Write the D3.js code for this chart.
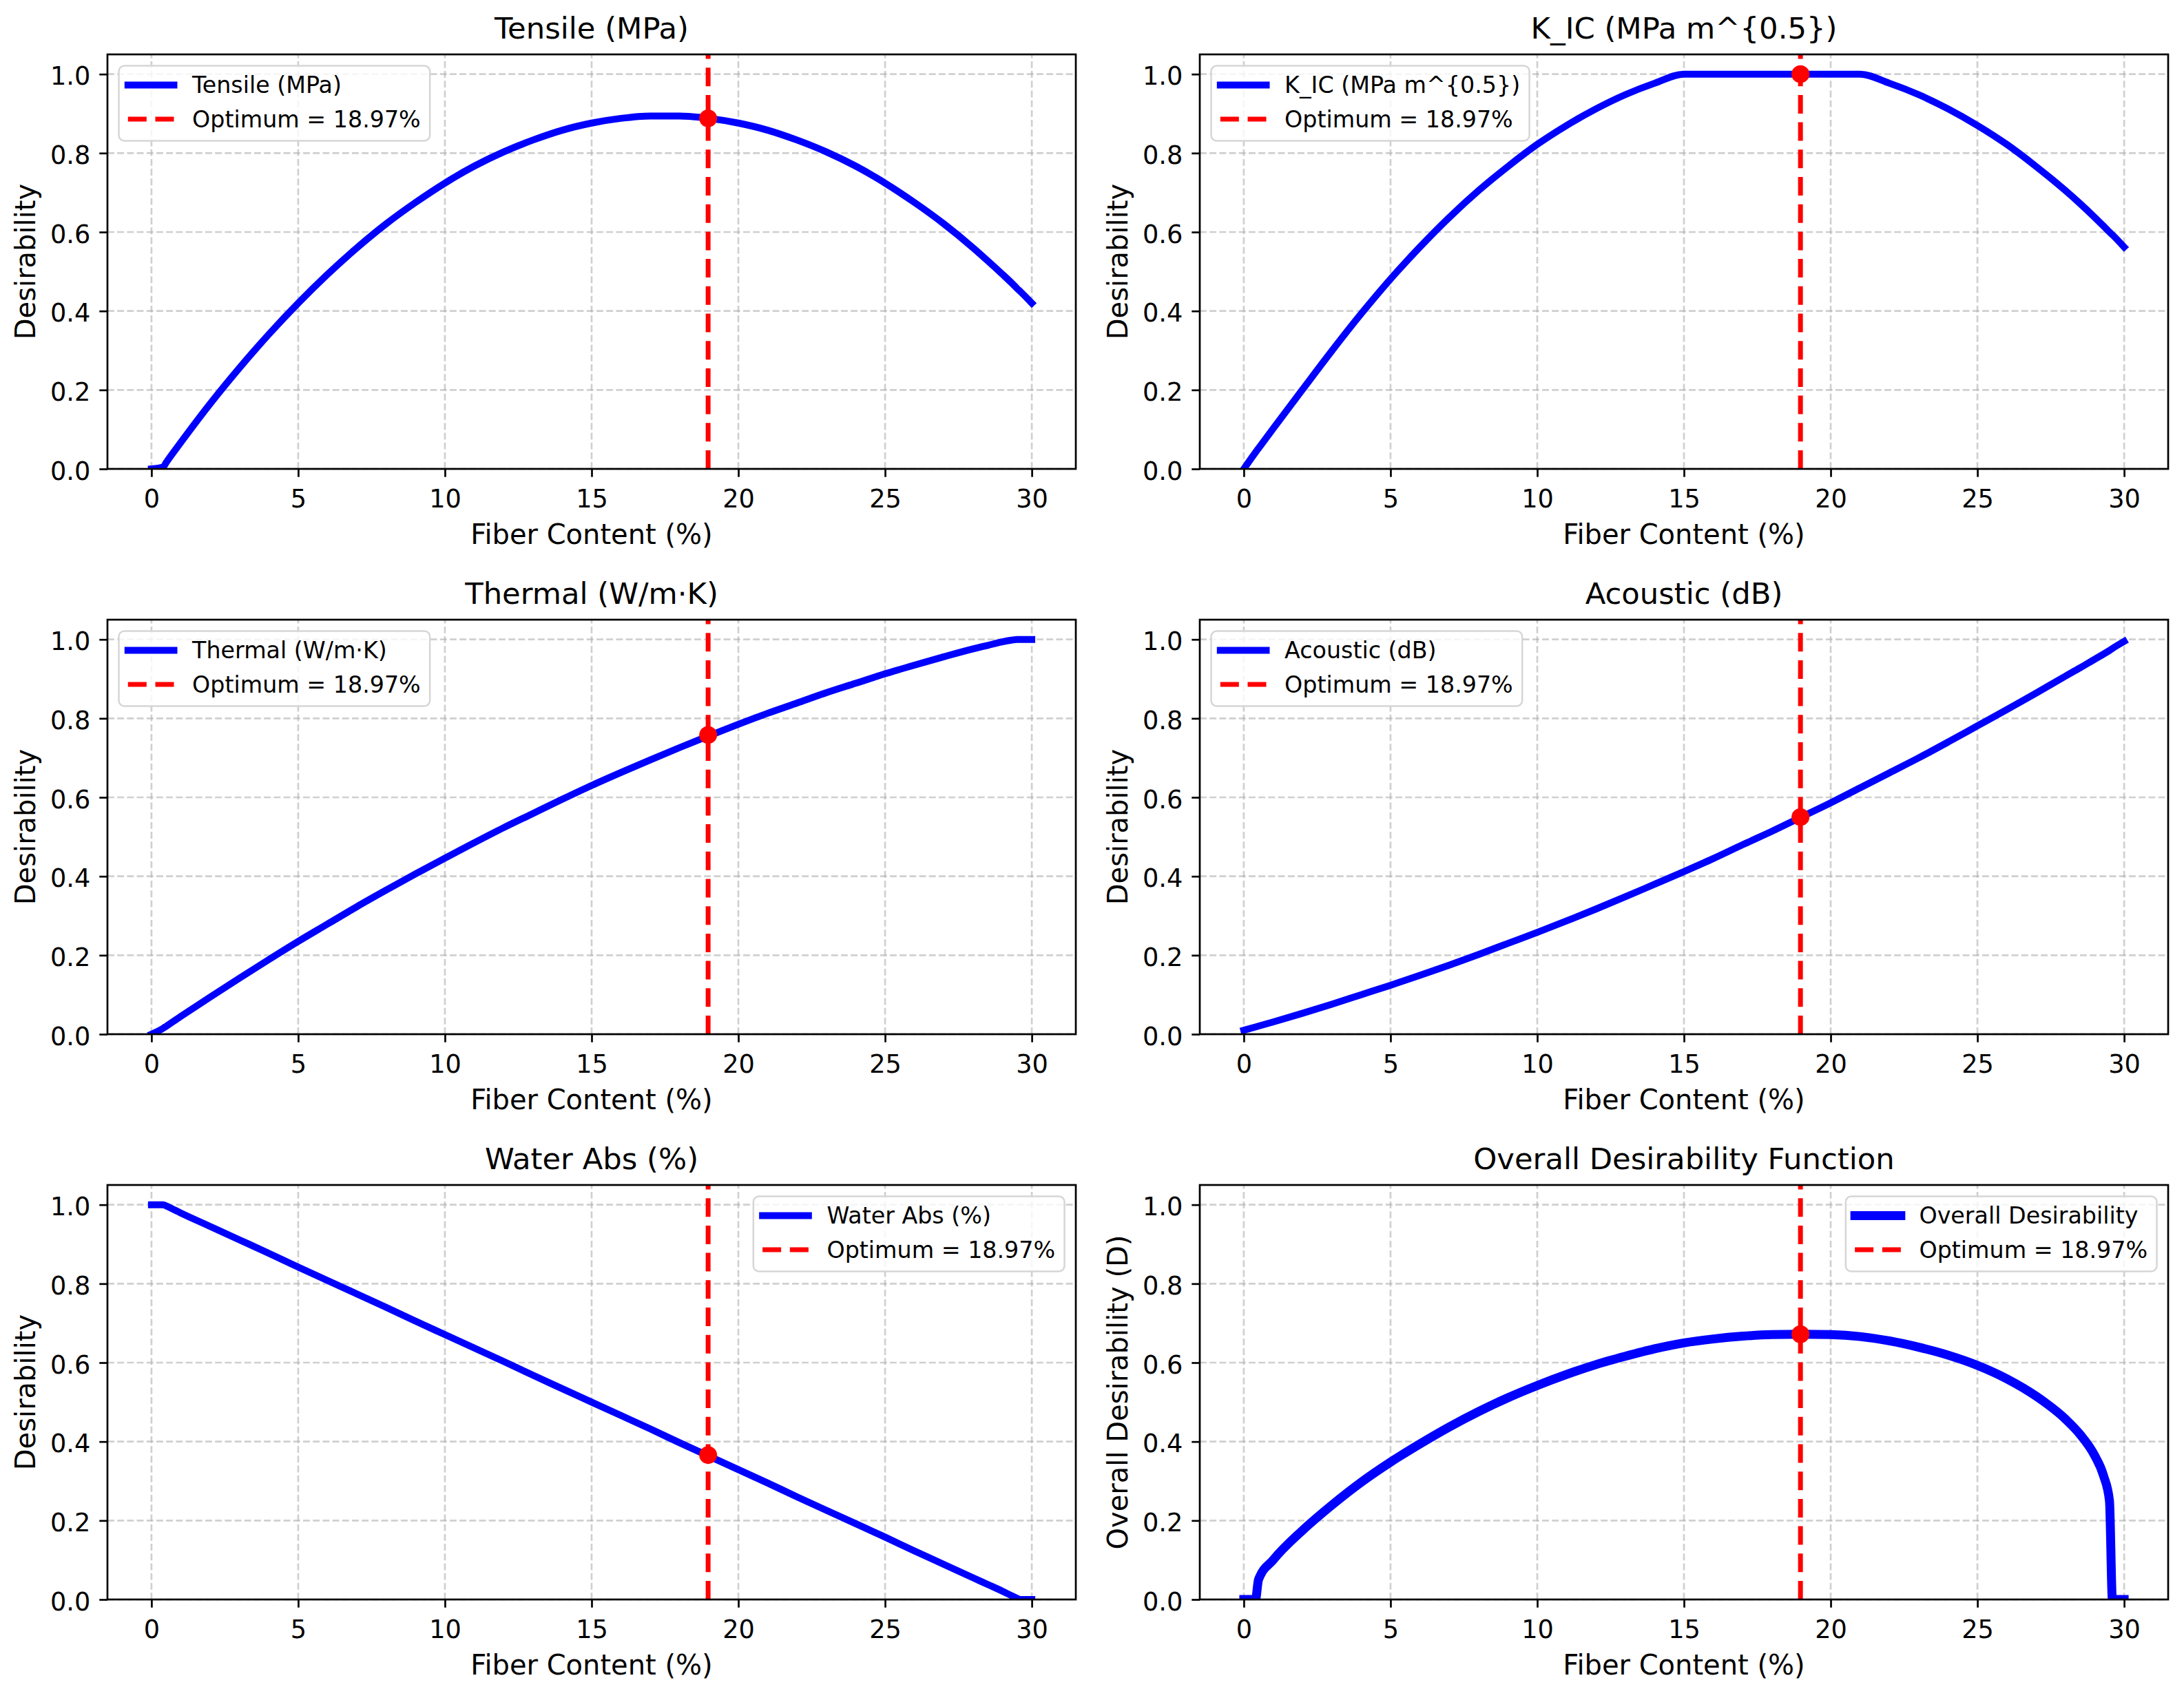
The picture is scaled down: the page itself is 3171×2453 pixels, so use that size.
<!DOCTYPE html>
<html><head><meta charset="utf-8">
<script src="https://cdn.jsdelivr.net/npm/d3@7/dist/d3.min.js"></script>
<style>body{margin:0;background:#fff}svg{display:block}</style>
</head><body><svg id="c"></svg>
<script>
// ---------------- data ----------------
const fiber = [0,0.4,0.5,1,2,3,4,5,6,7,8,9,10,11,12,13,14,15,16,17,18,19,20,21,22,23,24,25,26,27,28,28.5,29,29.3,29.5,29.6,30];
const tensile = [0,0.005,0.016,0.067,0.165,0.256,0.341,0.420,0.493,0.560,0.621,0.675,0.724,0.767,0.803,0.833,0.858,0.876,0.888,0.894,0.894,0.888,0.876,0.858,0.833,0.803,0.767,0.724,0.675,0.621,0.560,0.527,0.493,0.472,0.457,0.450,0.420];
const kic = [0,0.042,0.052,0.102,0.201,0.299,0.393,0.481,0.562,0.637,0.705,0.766,0.822,0.870,0.912,0.948,0.977,1.0,1.0,1.0,1.0,1.0,1.0,1.0,0.977,0.948,0.912,0.870,0.822,0.766,0.705,0.672,0.637,0.615,0.600,0.593,0.562];
const thermal = [0,0.015,0.020,0.045,0.094,0.142,0.189,0.235,0.279,0.323,0.365,0.406,0.446,0.485,0.523,0.559,0.595,0.630,0.663,0.695,0.726,0.756,0.785,0.813,0.839,0.865,0.889,0.913,0.935,0.956,0.976,0.985,0.994,0.998,1.0,1.0,1.0];
const acoustic = [0.010,0.0183,0.0204,0.031,0.053,0.076,0.100,0.124,0.149,0.175,0.202,0.230,0.258,0.287,0.317,0.348,0.380,0.412,0.445,0.480,0.514,0.550,0.586,0.624,0.662,0.700,0.740,0.781,0.822,0.864,0.907,0.928,0.950,0.963,0.972,0.977,0.995];
const water = [1,1,0.997,0.979,0.945,0.911,0.877,0.842,0.808,0.774,0.740,0.705,0.671,0.637,0.603,0.568,0.534,0.500,0.466,0.432,0.397,0.363,0.329,0.295,0.260,0.226,0.192,0.158,0.123,0.089,0.055,0.038,0.021,0.010,0.003,0,0];
const overall = [0,0,0.05,0.100,0.175,0.239,0.297,0.348,0.394,0.437,0.476,0.511,0.542,0.570,0.595,0.616,0.635,0.650,0.660,0.667,0.671,0.672,0.671,0.666,0.655,0.639,0.619,0.593,0.559,0.515,0.457,0.418,0.364,0.313,0.250,0,0];

const titles = ["Tensile (MPa)","K_IC (MPa m^{0.5})","Thermal (W/m·K)","Acoustic (dB)","Water Abs (%)","Overall Desirability Function"];
const seriesLabels = ["Tensile (MPa)","K_IC (MPa m^{0.5})","Thermal (W/m·K)","Acoustic (dB)","Water Abs (%)","Overall Desirability"];
const yLabels = ["Desirability","Desirability","Desirability","Desirability","Desirability","Overall Desirability (D)"];
const xLabel = "Fiber Content (%)";
const optimumX = 18.97;
const optimumLabel = "Optimum = 18.97%";
const optimumD = [0.888,1.0,0.758,0.550,0.366,0.672];
const xTicks = [0,5,10,15,20,25,30];
const yTicks = [0,0.2,0.4,0.6,0.8,1.0];
const series = [tensile,kic,thermal,acoustic,water,overall];

// ---------------- layout ----------------
const W = 3171, H = 2453;
const colLeft = [156, 1742], rowTop = [79, 900, 1721];
const pw = 1406, ph = 602;
const FONT = "DejaVu Sans";
const legendSide = ["left","left","left","left","right","right"];
const lineW = [10,10,10,10,10,13];

const svg = d3.select("#c").attr("width", W).attr("height", H);
svg.append("rect").attr("width", W).attr("height", H).attr("fill", "#fff");
const defs = svg.append("defs");

series.forEach((vals, i) => {
  const col = i % 2, row = Math.floor(i / 2);
  const left = colLeft[col], top = rowTop[row];
  const x = d3.scaleLinear().domain([-1.5, 31.5]).range([left, left + pw]);
  const y = d3.scaleLinear().domain([0, 1.05]).range([top + ph, top]);
  const g = svg.append("g");

  defs.append("clipPath").attr("id", "clip" + i)
    .append("rect").attr("x", left).attr("y", top).attr("width", pw).attr("height", ph);

  // grid
  const grid = g.append("g").attr("stroke", "#b0b0b0").attr("stroke-opacity", 0.6)
    .attr("stroke-width", 2.7).attr("stroke-dasharray", "9.9,4.3").attr("fill", "none");
  grid.selectAll("path.v").data(xTicks).join("path").attr("class", "v")
    .attr("d", d => `M${x(d)},${top + ph}V${top}`);
  grid.selectAll("path.h").data(yTicks).join("path").attr("class", "h")
    .attr("d", d => `M${left},${y(d)}H${left + pw}`);

  // data line
  const line = d3.line().x((d, j) => x(fiber[j])).y(d => y(d)).curve(d3.curveMonotoneX);
  g.append("path").datum(vals).attr("d", line).attr("fill", "none")
    .attr("stroke", "#0000ff").attr("stroke-width", lineW[i])
    .attr("stroke-linejoin", "round").attr("stroke-linecap", "square")
    .attr("clip-path", `url(#clip${i})`);

  // optimum line
  g.append("path").attr("d", `M${x(optimumX)},${top + ph}V${top}`)
    .attr("stroke", "#ff0000").attr("stroke-width", 7).attr("stroke-dasharray", "27,12.7")
    .attr("fill", "none");
  g.append("circle").attr("cx", x(optimumX)).attr("cy", y(optimumD[i])).attr("r", 13)
    .attr("fill", "#ff0000");

  // axes
  const ax = g.append("g").attr("transform", `translate(0,${top + ph})`)
    .call(d3.axisBottom(x).tickValues(xTicks).tickSize(11.7).tickPadding(18.3).tickFormat(d3.format("d")));
  const ay = g.append("g").attr("transform", `translate(${left},0)`)
    .call(d3.axisLeft(y).tickValues(yTicks).tickSize(11.7).tickPadding(13).tickFormat(d3.format(".1f")));
  [ax, ay].forEach(a => {
    a.select(".domain").remove();
    a.attr("font-family", FONT).attr("font-size", 36.7);
    a.selectAll(".tick line").attr("stroke", "#000").attr("stroke-width", 2.7);
    a.selectAll(".tick text").attr("fill", "#000");
  });
  ay.selectAll(".tick text").attr("dy", "0.41em");

  // spines
  g.append("rect").attr("x", left).attr("y", top).attr("width", pw).attr("height", ph)
    .attr("fill", "none").attr("stroke", "#000").attr("stroke-width", 2.7);

  // texts
  g.append("text").attr("x", left + pw / 2).attr("y", top - 23).attr("text-anchor", "middle")
    .attr("font-family", FONT).attr("font-size", 43.3).attr("fill", "#000").text(titles[i]);
  g.append("text").attr("x", left + pw / 2).attr("y", top + ph + 109).attr("text-anchor", "middle")
    .attr("font-family", FONT).attr("font-size", 40).attr("fill", "#000").text(xLabel);
  g.append("text").attr("transform", `translate(${left - 105},${top + ph / 2}) rotate(-90)`)
    .attr("text-anchor", "middle").attr("font-family", FONT).attr("font-size", 40)
    .attr("fill", "#000").text(yLabels[i]);

  // legend
  const fs = 33.3;
  const lg = g.append("g");
  const labels = [seriesLabels[i], optimumLabel];
  const tmp = lg.append("g").attr("font-family", FONT).attr("font-size", fs);
  let maxLen = 0;
  labels.forEach(t => {
    const n = tmp.append("text").text(t);
    maxLen = Math.max(maxLen, n.node().getComputedTextLength());
  });
  tmp.remove();
  const bw = 13.3 + 66.7 + 26.7 + maxLen + 13.3, bh = 109;
  const bx = legendSide[i] === "left" ? left + 16.5 : left + pw - 16.5 - bw;
  const by = top + 16.5;
  lg.append("rect").attr("x", bx).attr("y", by).attr("width", bw).attr("height", bh)
    .attr("rx", 8).attr("ry", 8).attr("fill", "#fff").attr("fill-opacity", 0.8)
    .attr("stroke", "#d6d6d6").attr("stroke-width", 2.5);
  const rowsY = [by + 28, by + 77.5];
  lg.append("path").attr("d", `M${bx + 13.3},${rowsY[0]}h66.7`).attr("stroke", "#0000ff")
    .attr("stroke-width", lineW[i]).attr("stroke-linecap", "square").attr("fill", "none");
  lg.append("path").attr("d", `M${bx + 13.3},${rowsY[1]}h66.7`).attr("stroke", "#ff0000")
    .attr("stroke-width", 7).attr("stroke-dasharray", "27,12.7").attr("fill", "none");
  labels.forEach((t, k) => {
    lg.append("text").attr("x", bx + 106.6).attr("y", rowsY[k] + 11.5)
      .attr("font-family", FONT).attr("font-size", fs).attr("fill", "#000").text(t);
  });
});
</script></body></html>
